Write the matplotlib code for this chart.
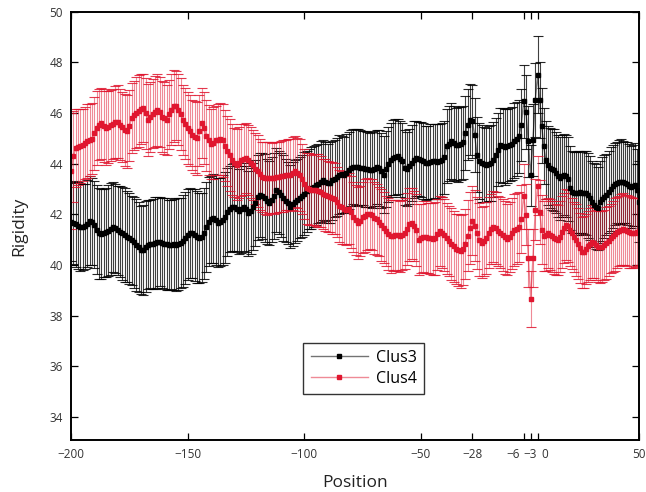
import matplotlib
matplotlib.use('Agg')
import matplotlib.pyplot as plt
import matplotlib.transforms as mtransforms
import numpy as np

# position along the sequence, one point per residue
positions = list(range(-200, 51))

clus3_mean = [
    41.70, 41.66, 41.62, 41.56, 41.52, 41.50, 41.53, 41.64, 41.76, 41.72,
    41.60, 41.40, 41.26, 41.22, 41.25, 41.30, 41.35, 41.44, 41.50, 41.45,
    41.38, 41.32, 41.25, 41.18, 41.12, 41.05, 40.98, 40.90, 40.80, 40.70,
    40.60, 40.58, 40.72, 40.80, 40.82, 40.84, 40.86, 40.90, 40.93, 40.88,
    40.84, 40.82, 40.80, 40.80, 40.82, 40.80, 40.83, 40.86, 40.95, 41.08,
    41.20, 41.28, 41.25, 41.19, 41.12, 41.06, 41.10, 41.25, 41.50, 41.72,
    41.80, 41.85, 41.78, 41.68, 41.70, 41.78, 41.88, 42.08, 42.20, 42.28,
    42.30, 42.20, 42.12, 42.20, 42.31, 42.20, 42.05, 42.15, 42.30, 42.45,
    42.68, 42.75, 42.72, 42.65, 42.52, 42.45, 42.58, 42.72, 42.95, 42.88,
    42.75, 42.65, 42.55, 42.45, 42.31, 42.40, 42.51, 42.58, 42.65, 42.71,
    42.82, 42.92, 43.00, 43.06, 43.10, 43.15, 43.22, 43.30, 43.37, 43.30,
    43.24, 43.26, 43.34, 43.40, 43.48, 43.56, 43.58, 43.57, 43.62, 43.75,
    43.85, 43.89, 43.88, 43.87, 43.85, 43.82, 43.79, 43.78, 43.77, 43.76,
    43.80, 43.87, 43.82, 43.72, 43.57, 43.78, 43.98, 44.15, 44.24, 44.28,
    44.29, 44.20, 44.09, 43.85, 43.80, 43.90, 44.02, 44.15, 44.22, 44.20,
    44.16, 44.10, 44.03, 44.05, 44.08, 44.09, 44.10, 44.08, 44.09, 44.15,
    44.25, 44.70, 44.80, 44.88, 44.82, 44.76, 44.75, 44.80, 44.85, 45.20,
    45.55, 45.74, 45.67, 45.14, 44.35, 44.10, 44.03, 43.98, 43.96, 44.00,
    44.03, 44.15, 44.35, 44.55, 44.75, 44.72, 44.68, 44.70, 44.75, 44.80,
    44.90, 44.97, 45.08, 45.54, 46.46, 46.06, 44.88, 43.54, 44.95, 46.53,
    47.51, 46.53, 45.51, 44.70, 44.15, 43.95, 43.82, 43.78, 43.76, 43.65,
    43.50, 43.43, 43.50, 43.57, 43.50, 43.40, 43.05, 42.88, 42.86, 42.84,
    42.85, 42.87, 42.86, 42.85, 42.84, 42.76, 42.65, 42.48, 42.38, 42.30,
    42.25, 42.50, 42.62, 42.70, 42.78, 42.90, 43.02, 43.12, 43.20, 43.25,
    43.28, 43.30, 43.28, 43.26, 43.22, 43.12, 43.08, 43.14, 43.17, 42.95,
    42.50,
]

clus3_err = [
    1.55, 1.62, 1.70, 1.72, 1.74, 1.70, 1.68, 1.72, 1.75, 1.70,
    1.72, 1.76, 1.80, 1.78, 1.74, 1.76, 1.80, 1.82, 1.78, 1.75,
    1.76, 1.80, 1.82, 1.85, 1.80, 1.78, 1.76, 1.80, 1.82, 1.78,
    1.75, 1.78, 1.80, 1.76, 1.74, 1.78, 1.82, 1.80, 1.76, 1.78,
    1.80, 1.82, 1.78, 1.76, 1.80, 1.84, 1.82, 1.78, 1.80, 1.82,
    1.80, 1.78, 1.76, 1.80, 1.82, 1.78, 1.76, 1.80, 1.78, 1.75,
    1.72, 1.76, 1.78, 1.74, 1.72, 1.76, 1.78, 1.74, 1.70, 1.72,
    1.74, 1.70, 1.68, 1.72, 1.74, 1.70, 1.68, 1.70, 1.72, 1.70,
    1.68, 1.66, 1.70, 1.72, 1.68, 1.65, 1.68, 1.70, 1.66, 1.64,
    1.66, 1.68, 1.65, 1.62, 1.64, 1.66, 1.64, 1.62, 1.60, 1.62,
    1.64, 1.60, 1.58, 1.62, 1.60, 1.58, 1.56, 1.60, 1.58, 1.55,
    1.56, 1.58, 1.55, 1.52, 1.54, 1.56, 1.52, 1.50, 1.54, 1.52,
    1.50, 1.48, 1.50, 1.52, 1.48, 1.46, 1.50, 1.48, 1.46, 1.50,
    1.48, 1.46, 1.50, 1.48, 1.52, 1.50, 1.48, 1.46, 1.48, 1.50,
    1.48, 1.50, 1.52, 1.48, 1.46, 1.48, 1.50, 1.52, 1.48, 1.46,
    1.48, 1.50, 1.46, 1.44, 1.48, 1.50, 1.46, 1.48, 1.50, 1.46,
    1.44, 1.46, 1.48, 1.50, 1.46, 1.44, 1.48, 1.46, 1.44, 1.46,
    1.42, 1.40, 1.44, 1.46, 1.48, 1.50, 1.52, 1.48, 1.46, 1.48,
    1.50, 1.48, 1.46, 1.44, 1.46, 1.48, 1.50, 1.46, 1.44, 1.46,
    1.48, 1.46, 1.44, 1.42, 1.44, 1.46, 1.40, 1.20, 1.42, 1.46,
    1.52, 1.50, 1.48, 1.50, 1.54, 1.56, 1.58, 1.60, 1.62, 1.60,
    1.62, 1.64, 1.62, 1.60, 1.62, 1.64, 1.66, 1.62, 1.60, 1.64,
    1.66, 1.62, 1.60, 1.64, 1.66, 1.68, 1.64, 1.62, 1.66, 1.68,
    1.64, 1.62, 1.66, 1.64, 1.60, 1.62, 1.66, 1.64, 1.62, 1.60,
    1.64, 1.66, 1.62, 1.60, 1.64, 1.66, 1.62, 1.60, 1.64, 1.62,
    1.60,
]

clus4_mean = [
    43.72, 44.29, 44.62, 44.68, 44.70, 44.74, 44.82, 44.90, 44.93, 44.98,
    45.20, 45.42, 45.55, 45.60, 45.50, 45.42, 45.45, 45.52, 45.58, 45.65,
    45.66, 45.55, 45.44, 45.35, 45.28, 45.50, 45.82, 45.92, 46.02, 46.08,
    46.15, 46.20, 46.00, 45.74, 45.85, 45.98, 46.05, 46.12, 46.05, 45.86,
    45.80, 45.74, 45.95, 46.13, 46.28, 46.30, 46.13, 45.95, 45.74, 45.58,
    45.42, 45.30, 45.12, 45.05, 45.01, 45.30, 45.60, 45.40, 45.10, 44.95,
    44.78, 44.82, 44.92, 44.95, 44.96, 44.92, 44.72, 44.52, 44.35, 44.16,
    44.05, 43.96, 44.05, 44.15, 44.18, 44.22, 44.15, 44.05, 43.95, 43.80,
    43.70, 43.58, 43.46, 43.42, 43.43, 43.44, 43.43, 43.45, 43.47, 43.48,
    43.50, 43.53, 43.55, 43.56, 43.57, 43.63, 43.70, 43.65, 43.55, 43.40,
    43.20, 43.04, 43.00, 42.98, 42.97, 42.95, 42.93, 42.90, 42.82, 42.75,
    42.71, 42.68, 42.65, 42.62, 42.48, 42.32, 42.28, 42.22, 42.18, 42.22,
    42.10, 41.90, 41.78, 41.66, 41.75, 41.88, 41.95, 42.00, 42.03, 41.98,
    41.86, 41.80, 41.72, 41.60, 41.48, 41.36, 41.22, 41.13, 41.16, 41.20,
    41.18, 41.13, 41.18, 41.26, 41.42, 41.62, 41.66, 41.55, 41.40, 41.00,
    41.05, 41.12, 41.10, 41.08, 41.05, 41.02, 41.05, 41.22, 41.33, 41.28,
    41.18, 41.05, 40.95, 40.82, 40.74, 40.65, 40.58, 40.54, 40.62, 40.85,
    41.16, 41.46, 41.76, 41.55, 41.25, 41.00, 40.88, 40.95, 41.08, 41.28,
    41.42, 41.52, 41.45, 41.33, 41.27, 41.20, 41.10, 41.02, 41.12, 41.25,
    41.39, 41.44, 41.50, 41.82, 42.71, 41.99, 40.29, 38.66, 40.29, 42.18,
    43.14, 42.10, 41.40, 41.15, 41.20, 41.26, 41.20, 41.13, 41.08, 41.02,
    41.00, 41.12, 41.30, 41.45, 41.60, 41.55, 41.40, 41.25, 41.10, 41.00,
    40.85, 40.67, 40.50, 40.52, 40.65, 40.75, 40.85, 40.93, 40.88, 40.78,
    40.73, 40.72, 40.73, 40.78, 40.88, 40.95, 41.05, 41.13, 41.22, 41.30,
    41.36, 41.40, 41.42, 41.40, 41.35, 41.30, 41.28, 41.26, 41.28, 41.30,
    41.33,
]

clus4_err = [
    2.30, 1.80, 1.55, 1.50, 1.45, 1.42, 1.44, 1.46, 1.42, 1.40,
    1.44, 1.46, 1.42, 1.40, 1.44, 1.46, 1.42, 1.40, 1.38, 1.42,
    1.44, 1.40, 1.38, 1.42, 1.44, 1.40, 1.38, 1.36, 1.40, 1.42,
    1.38, 1.36, 1.40, 1.42, 1.38, 1.36, 1.40, 1.42, 1.38, 1.40,
    1.42, 1.38, 1.36, 1.40, 1.42, 1.38, 1.40, 1.42, 1.38, 1.40,
    1.42, 1.40, 1.38, 1.42, 1.44, 1.40, 1.38, 1.42, 1.40, 1.38,
    1.40, 1.42, 1.38, 1.40, 1.42, 1.44, 1.40, 1.38, 1.42, 1.40,
    1.38, 1.40, 1.42, 1.44, 1.40, 1.38, 1.40, 1.42, 1.38, 1.40,
    1.42, 1.40, 1.38, 1.42, 1.44, 1.40, 1.38, 1.42, 1.40, 1.38,
    1.40, 1.42, 1.38, 1.40, 1.42, 1.44, 1.40, 1.38, 1.42, 1.40,
    1.38, 1.40, 1.42, 1.38, 1.40, 1.42, 1.44, 1.40, 1.38, 1.42,
    1.40, 1.38, 1.42, 1.40, 1.38, 1.42, 1.44, 1.40, 1.38, 1.40,
    1.42, 1.38, 1.40, 1.42, 1.38, 1.40, 1.44, 1.42, 1.38, 1.40,
    1.42, 1.40, 1.38, 1.42, 1.40, 1.38, 1.42, 1.44, 1.40, 1.38,
    1.40, 1.42, 1.38, 1.40, 1.42, 1.44, 1.40, 1.38, 1.42, 1.40,
    1.38, 1.40, 1.42, 1.38, 1.40, 1.42, 1.44, 1.40, 1.38, 1.40,
    1.42, 1.40, 1.38, 1.42, 1.40, 1.38, 1.42, 1.44, 1.40, 1.38,
    1.40, 1.42, 1.38, 1.40, 1.42, 1.44, 1.40, 1.38, 1.42, 1.40,
    1.38, 1.40, 1.42, 1.38, 1.40, 1.42, 1.44, 1.40, 1.38, 1.40,
    1.42, 1.40, 1.38, 1.36, 1.30, 1.20, 1.15, 1.10, 1.15, 1.20,
    1.15, 1.25, 1.35, 1.40, 1.42, 1.38, 1.40, 1.42, 1.44, 1.40,
    1.38, 1.40, 1.42, 1.38, 1.40, 1.42, 1.44, 1.40, 1.38, 1.42,
    1.40, 1.38, 1.40, 1.42, 1.38, 1.40, 1.42, 1.44, 1.40, 1.38,
    1.40, 1.42, 1.40, 1.38, 1.42, 1.40, 1.38, 1.42, 1.44, 1.40,
    1.38, 1.40, 1.42, 1.38, 1.40, 1.42, 1.40, 1.38, 1.36, 1.34,
    1.32,
]

x_ticks = [-200, -150, -100, -50, -28, -6, -3, 0, 50]
y_ticks = [34, 36, 38, 40, 42, 44, 46, 48, 50]

red = '#e0162f'

plt.rcParams['font.family'] = ['Open Sans', 'DejaVu Sans']

fig = plt.figure(figsize=(6.46, 4.92), dpi=100)
ax = fig.add_axes([0.110, 0.106, 0.879, 0.870])

# downstream side (x > 0) is drawn a little compressed
def fwd(x):
    x = np.asarray(x, dtype=float)
    return np.where(x > 0, x * 0.868, x)

def inv(x):
    x = np.asarray(x, dtype=float)
    return np.where(x > 0, x / 0.868, x)

ax.set_xscale('function', functions=(fwd, inv))

series = [
    (clus3_mean, clus3_err, 'black', (0, 0, 0, 0.55), 0.75, 'Clus3'),
    (clus4_mean, clus4_err, red, (0.88, 0.09, 0.18, 0.5), 0.5, 'Clus4'),
]

handles = []
for mean, err, color, line_rgba, bar_alpha, name in series:
    line, caps, bars = ax.errorbar(positions, mean, yerr=err, color=line_rgba,
                                   ecolor=color, marker='s', markersize=3.2,
                                   markerfacecolor=color, markeredgecolor=color,
                                   linewidth=1.0, elinewidth=0.8, capsize=3.5,
                                   capthick=0.8)
    bars[0].set_alpha(bar_alpha)
    for c in caps:
        c.set_alpha(0.85)
    handles.append(line)

ax.set_xlim(-200, 50)
ax.set_ylim(33.1, 50)
ax.set_xticks(x_ticks)
ax.set_xticklabels([str(t).replace('-', '\u2212') for t in x_ticks])
ax.set_yticks(y_ticks)
ax.set_yticklabels([str(t) for t in y_ticks])
ax.minorticks_off()

ax.tick_params(direction='in', top=True, right=True, length=5, width=0.9,
               labelsize=8.5, labelcolor='#333333', pad=6)
for spine in ax.spines.values():
    spine.set_linewidth(1.4)

# spread the crowded labels near zero apart, as in the original
label_shift = {-6: -11, -3: -1, 0: 7}
for t, lab in zip(x_ticks, ax.get_xticklabels()):
    if t in label_shift:
        lab.set_transform(lab.get_transform() + mtransforms.ScaledTranslation(
            label_shift[t] / 100.0, 0, fig.dpi_scale_trans))

ax.set_xlabel('Position', fontsize=12.5, color='#222222', labelpad=10)
ax.set_ylabel('Rigidity', fontsize=12.5, color='#222222', labelpad=16)

leg = ax.legend(handles, ['Clus3', 'Clus4'], loc='upper left',
                bbox_to_anchor=(0.395, 0.246), fontsize=11.5, frameon=True,
                fancybox=False, edgecolor='black', handlelength=3.6,
                borderpad=0.45, labelspacing=0.3, handletextpad=0.5)
leg.get_frame().set_linewidth(1.0)

plt.savefig('out.png', dpi=100)
